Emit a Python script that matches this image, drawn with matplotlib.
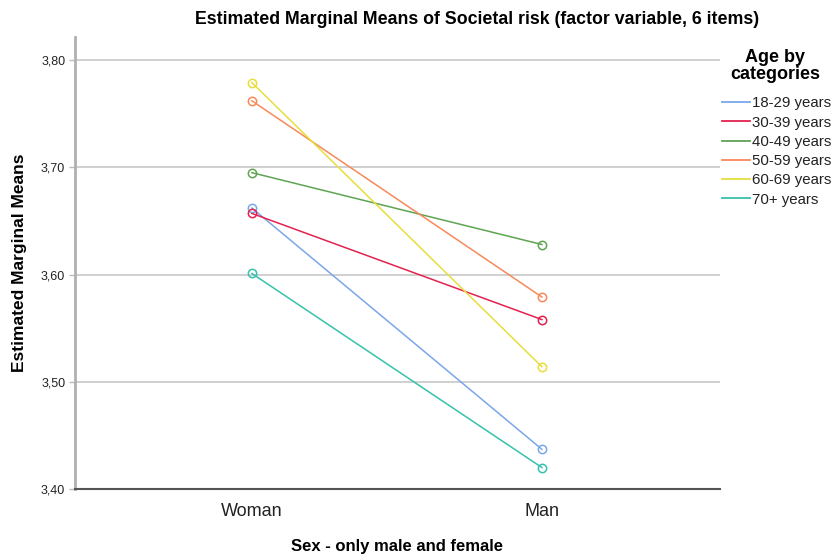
import matplotlib
matplotlib.use("Agg")
import matplotlib.pyplot as plt
from matplotlib.ticker import FixedLocator, FuncFormatter

plt.rcParams['font.family'] = ['Liberation Sans', 'DejaVu Sans']

sexes = ["Woman", "Man"]
age_groups = ["18-29 years", "30-39 years", "40-49 years",
              "50-59 years", "60-69 years", "70+ years"]
means = {
    "18-29 years": [3.662, 3.437],
    "30-39 years": [3.657, 3.558],
    "40-49 years": [3.695, 3.628],
    "50-59 years": [3.762, 3.579],
    "60-69 years": [3.779, 3.514],
    "70+ years":   [3.601, 3.420],
}
colors = ["#7aa7ea", "#e3214f", "#5ea452", "#f7895a", "#e6de3c", "#35c2ad"]
y_ticks = [3.40, 3.50, 3.60, 3.70, 3.80]

fig = plt.figure(figsize=(8.32, 5.54), dpi=100)
ax = fig.add_axes([0.0901, 0.1173, 0.7753, 0.8157])

x = list(range(len(sexes)))
for grp, col in zip(age_groups, colors):
    ax.plot(x, means[grp], color=col, lw=1.1, marker="o", ms=6,
            mfc="none", mec=col, mew=1.1, label=grp)

ax.set_xlim(-0.61, 1.614)
ax.set_ylim(3.40, 3.8214)
ax.yaxis.set_major_locator(FixedLocator(y_ticks))
ax.yaxis.set_major_formatter(FuncFormatter(lambda v, p: f"{v:.2f}".replace(".", ",")))
ax.set_xticks(x)
ax.set_xticklabels(sexes, fontsize=13, color="#222222")
ax.tick_params(axis="x", length=0, pad=10)
ax.tick_params(axis="y", length=4, width=1, color="#bbbbbb", labelsize=9,
               labelcolor="#222222", pad=3)

ax.grid(axis="y", color="#c8c8c8", lw=1.2)
ax.set_axisbelow(True)
for s in ["top", "right"]:
    ax.spines[s].set_visible(False)
ax.spines["left"].set_color("#b0b0b0")
ax.spines["left"].set_linewidth(2)
ax.spines["bottom"].set_color("#555555")
ax.spines["bottom"].set_linewidth(1.5)

ax.set_ylabel("Estimated Marginal Means", fontsize=12.5, fontweight="bold", labelpad=10)
ax.set_xlabel("Sex - only male and female", fontsize=12, fontweight="bold", labelpad=14)
fig.text(0.573, 0.964, "Estimated Marginal Means of Societal risk (factor variable, 6 items)",
         ha="center", va="center", fontsize=12.8, fontweight="bold")

fig.text(0.9315, 0.881, "Age by\ncategories", ha="center", va="center",
         fontsize=13, fontweight="bold", linespacing=1.0)
fig.legend(handles=[plt.Line2D([], [], color=c, lw=1.3) for c in colors],
           labels=age_groups, loc="upper left", bbox_to_anchor=(0.868, 0.826),
           frameon=False, fontsize=10.8, handlelength=1.85, handletextpad=0.12,
           labelspacing=0.35, borderaxespad=0, borderpad=0,
           labelcolor="#222222")

fig.savefig("out.png", dpi=100)
